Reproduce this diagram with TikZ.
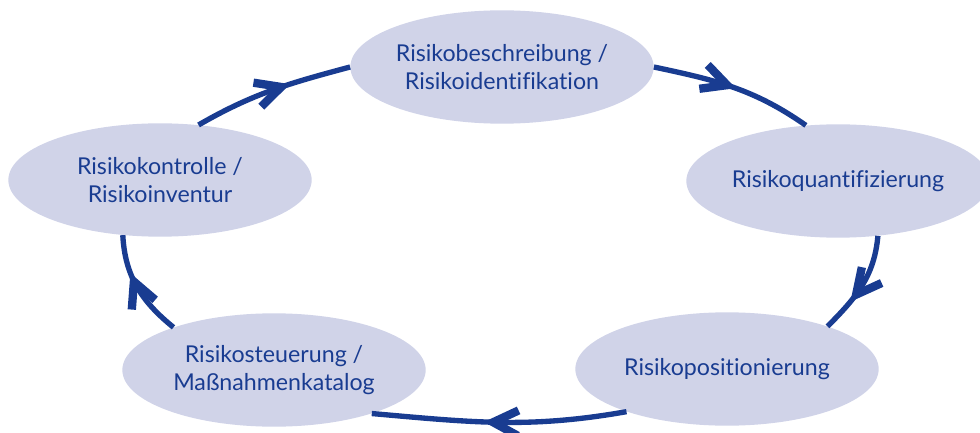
\documentclass[tikz,border=0pt]{standalone}
\usepackage{fontspec}
\setmainfont{Lato}[Ligatures=NoCommon]
\usepackage{xcolor}
\usetikzlibrary{calc}
\usetikzlibrary{positioning}
\usetikzlibrary{shapes.geometric}
\usetikzlibrary{decorations.markings}
\definecolor{rblue}{RGB}{25,60,145}
\definecolor{rfill}{RGB}{208,211,232}

\begin{document}
\begin{tikzpicture}[x=0.3mm, y=0.3mm]

                \def\w{91mm}
                \def\h{34mm}

                % Looks of the stages and of the arrows of the cycle
                \tikzset{
                    stage/.style={ellipse, fill=rfill, inner sep=0pt,
                        minimum width=\w, minimum height=\h, text=rblue,
                        align=center, font=\fontsize{19.8}{23.5}\selectfont},
                    cyc/.style={rblue, line width=1.6mm, postaction={decorate},
                        decoration={markings, mark=at position #1 with
                        {\draw[line width=2.5mm, line join=miter]
                        (-9.5mm,3.8mm) -- (-2mm,0) -- (-9.5mm,-3.8mm);}}},
                    cyc/.default=0.5
                }

                \useasboundingbox (0, 0) rectangle (980, 432);

                % The five stages, clockwise from the top
                \begin{scope}
                    \node[stage] (ident) at (502, 365)
                    {Risikobeschreibung /\\Risikoidentifikation};
                    \node[stage] (quant) at (838, 251)
                    {Risikoquantifizierung};
                    \node[stage] (posit) at (727, 63)
                    {Risikopositionierung};
                    \node[stage] (steu) at (274, 62)
                    {Risikosteuerung /\\Maßnahmenkatalog};
                    \node[stage] (kontr) at (160, 252)
                    {Risikokontrolle /\\Risikoinventur};
                \end{scope}

                \begin{scope}
                    \draw[cyc=0.6] (kontr.55) to[out=30, in=195] (ident.180);
                    \draw[cyc=0.5] (ident.0) to[out=-12, in=145] (quant.120);
                    \draw[cyc=0.66] (quant.-54) to[out=-95, in=45] (posit.23);
                    \draw[cyc=0.55] (posit.203) to[out=190, in=-5] (steu.336);
                    \draw[cyc=0.62] (steu.157) to[out=141, in=273] (kontr.236);
                \end{scope}

                \end{tikzpicture}
\end{document}
